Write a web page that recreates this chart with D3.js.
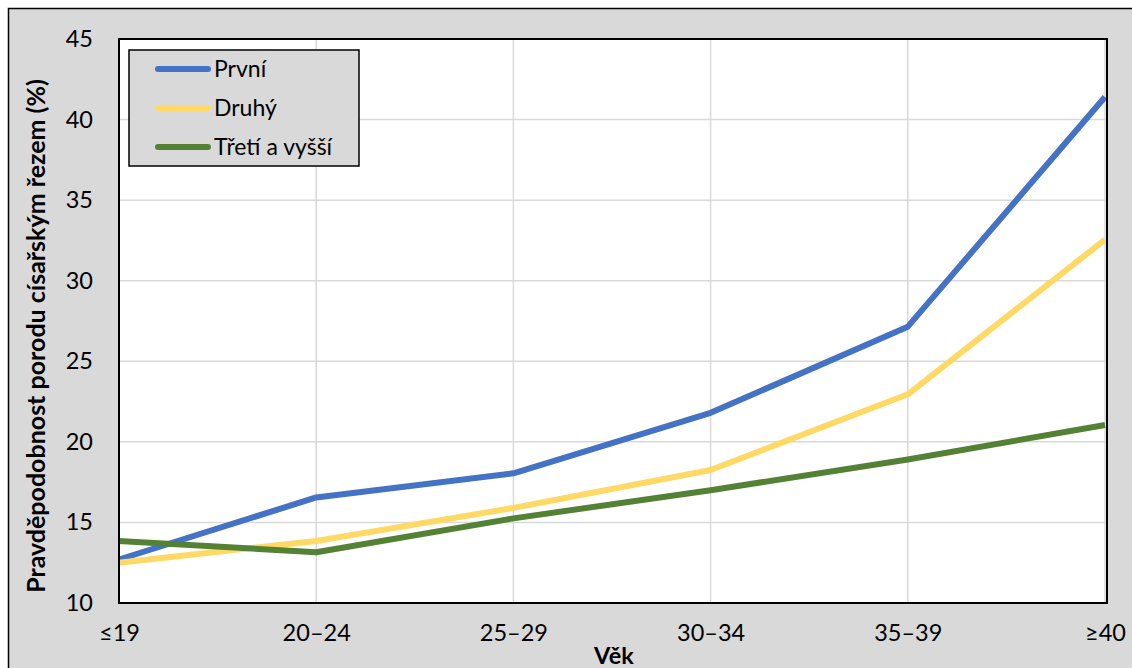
<!DOCTYPE html>
<html><head><meta charset="utf-8">
<script src="https://cdn.jsdelivr.net/npm/d3@7"></script>
<style>
html,body{margin:0;padding:0;background:#fff;}
svg{display:block;font-family:Lato,"Open Sans",sans-serif;}
</style></head>
<body><svg id="c" width="1132" height="668"></svg>
<script>
const categories = ["≤19","20–24","25–29","30–34","35–39","≥40"];
const prvni = [12.7, 16.55, 18.05, 21.8, 27.15, 41.4];
const druhy = [12.5, 13.85, 15.9, 18.25, 22.95, 32.55];
const treti = [13.85, 13.15, 15.25, 17.0, 18.9, 21.05];
const yTicks = [10,15,20,25,30,35,40,45];
const seriesNames = ["První","Druhý","Třetí a vyšší"];
const seriesColors = ["#4472C4","#FFD966","#548235"];
const seriesData = [prvni, druhy, treti];

const svg = d3.select("#c");
const W = 1132, H = 668;
const L = 119, R = 1107, T = 39, B = 603;

// chart background + border
svg.append("rect").attr("x",8.5).attr("y",8.5).attr("width",W+10).attr("height",H+10)
  .attr("fill","#d9d9d9").attr("stroke","#000").attr("stroke-width",1.5);

const x = d3.scalePoint().domain(categories).range([L, R-2]).padding(0);
const y = d3.scaleLinear().domain([10,45]).range([B, T]);

// plot area
svg.append("rect").attr("x",L).attr("y",T).attr("width",R-L).attr("height",B-T).attr("fill","#fff");

// gridlines
const g = svg.append("g");
g.selectAll(".hg").data(yTicks).join("line")
  .attr("x1",L).attr("x2",R).attr("y1",d=>y(d)).attr("y2",d=>y(d))
  .attr("stroke","#d9d9d9").attr("stroke-width",1.5);
g.selectAll(".vg").data(categories).join("line")
  .attr("x1",d=>x(d)).attr("x2",d=>x(d)).attr("y1",T).attr("y2",B)
  .attr("stroke","#d9d9d9").attr("stroke-width",1.5);

// axes (labels only)
const yAxis = d3.axisLeft(y).tickValues(yTicks).tickSize(0).tickPadding(26);
const ya = svg.append("g").attr("transform",`translate(${L},0)`).call(yAxis);
ya.select(".domain").remove();
ya.selectAll("text").attr("font-size",23.5).attr("fill","#000").attr("font-family","Lato,sans-serif");

const xAxis = d3.axisBottom(x).tickSize(0).tickPadding(21);
const xa = svg.append("g").attr("transform",`translate(0,${B})`).call(xAxis);
xa.select(".domain").remove();
xa.selectAll("text").attr("font-size",23.5).attr("fill","#000").attr("font-family","Lato,sans-serif");

// lines
const line = d3.line().x((d,i)=>x(categories[i])).y(d=>y(d));
seriesData.forEach((s,k)=>{
  svg.append("path").datum(s).attr("d",line).attr("fill","none")
    .attr("stroke",seriesColors[k]).attr("stroke-width",6).attr("stroke-linejoin","round");
});

// plot border
svg.append("rect").attr("x",L).attr("y",T).attr("width",R-L).attr("height",B-T)
  .attr("fill","none").attr("stroke","#000").attr("stroke-width",2);

// axis titles
svg.append("text").attr("transform",`translate(45,336) rotate(-90)`)
  .attr("text-anchor","middle").attr("font-weight","bold").attr("font-size",25)
  .text("Pravděpodobnost porodu císařským řezem (%)");
svg.append("text").attr("x",614).attr("y",664).attr("text-anchor","middle")
  .attr("font-weight","bold").attr("font-size",23.5).text("Věk");

// legend
const lg = svg.append("g");
lg.append("rect").attr("x",129).attr("y",50).attr("width",230).attr("height",116)
  .attr("fill","#d9d9d9").attr("stroke","#000").attr("stroke-width",1.5);
seriesNames.forEach((n,k)=>{
  const cy = 69 + k*39;
  lg.append("line").attr("x1",158).attr("x2",208).attr("y1",cy).attr("y2",cy)
    .attr("stroke",seriesColors[k]).attr("stroke-width",6).attr("stroke-linecap","round");
  lg.append("text").attr("x",214).attr("y",cy+8).attr("font-size",23).text(n);
});
</script></body></html>
